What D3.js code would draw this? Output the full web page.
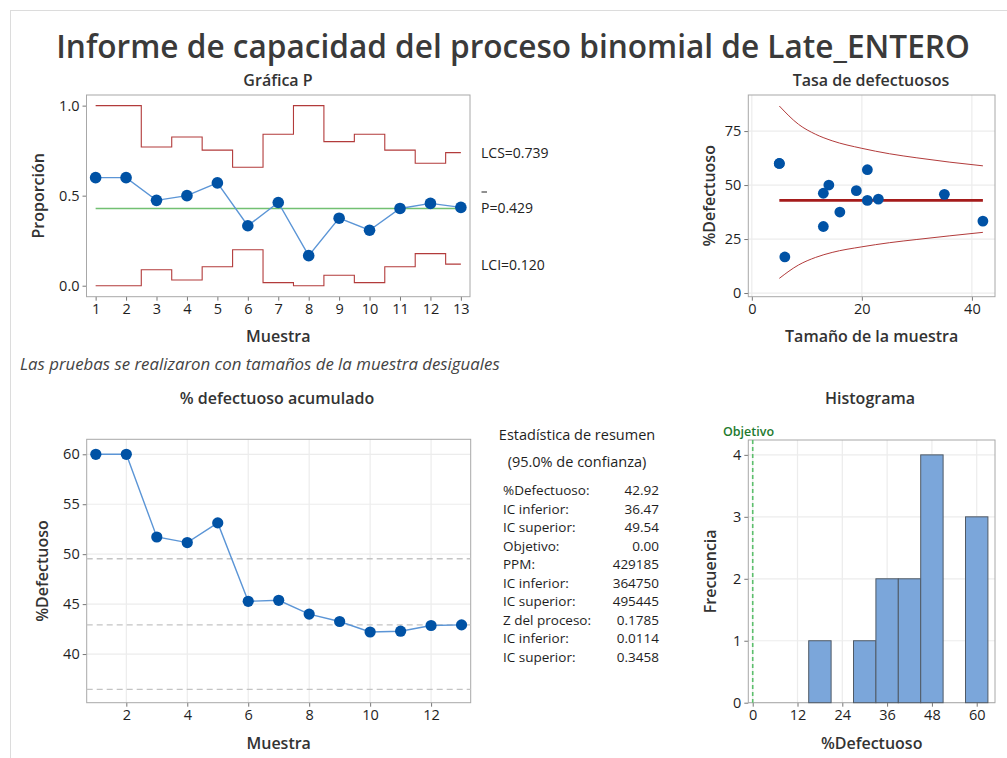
<!DOCTYPE html>
<html>
<head>
<meta charset="utf-8">
<script src="https://cdn.jsdelivr.net/npm/d3@7"></script>
<style>
  body { margin: 0; background: #fff; }
  svg { display: block; }
  text { font-family: "Open Sans", "Noto Sans", "DejaVu Sans", sans-serif; }
</style>
</head>
<body>
<svg id="chart" width="1007" height="758"></svg>
<script>
// ---- data -------------------------------------------------------------
const samples      = [1, 2, 3, 4, 5, 6, 7, 8, 9, 10, 11, 12, 13];
const sampleSizes  = [5, 5, 19, 14, 21, 42, 13, 6, 16, 13, 21, 35, 23];
const proportion   = [0.600, 0.600, 0.474, 0.500, 0.571, 0.333, 0.462, 0.167, 0.375, 0.308, 0.429, 0.457, 0.435];
const ucl          = [1.000, 1.000, 0.770, 0.826, 0.753, 0.658, 0.841, 1.000, 0.800, 0.841, 0.753, 0.680, 0.739];
const lcl          = [0.000, 0.000, 0.089, 0.032, 0.105, 0.200, 0.017, 0.000, 0.058, 0.017, 0.105, 0.178, 0.120];
const pBar = 0.429;
const cumulativePct = [60.00, 60.00, 51.72, 51.16, 53.13, 45.28, 45.38, 44.00, 43.26, 42.21, 42.29, 42.86, 42.92];
const ciLower = 36.47, ciUpper = 49.54, pctDefective = 42.92;

// limit curves of the rate plot
const curveN     = [5, 8.5, 11.6, 14.6, 20, 25, 30, 36, 42];
const curveUpper = [86.6, 78.1, 73.5, 70.5, 67.0, 64.5, 62.6, 60.6, 58.9];
const curveLower = [6.8, 13.0, 16.5, 18.8, 21.4, 23.3, 24.8, 26.5, 28.1];

// histogram bins (%Defectuoso)
const binStart = [15, 27, 33, 39, 45, 57];
const binEnd   = [21, 33, 39, 45, 51, 63];
const binCount = [1, 1, 2, 2, 4, 3];
const target = 0;

const pTicks    = [0, 0.5, 1.0];
const cumYTicks = [40, 45, 50, 55, 60];
const cumXTicks = [2, 4, 6, 8, 10, 12];
const rateYTicks = [0, 25, 50, 75];
const rateXTicks = [0, 20, 40];
const histXTicks = [0, 12, 24, 36, 48, 60];
const histYTicks = [0, 1, 2, 3, 4];

const statLabels = ["%Defectuoso:", "IC inferior:", "IC superior:", "Objetivo:", "PPM:",
                    "IC inferior:", "IC superior:", "Z del proceso:", "IC inferior:", "IC superior:"];
const statValues = ["42.92", "36.47", "49.54", "0.00", "429185", "364750", "495445", "0.1785", "0.0114", "0.3458"];

// ---- styles ------------------------------------------------------------
const C = {
  frame: "#a8a8a8", grid: "#ececec", text: "#333", tick: "#1e1e1e",
  dot: "#0052a5", line: "#5b95d6", limit: "#b23b3b", center: "#72c072",
  rateCenter: "#a51b1b", bar: "#7ba6da", barStroke: "#505a66",
  targetLine: "#5cbf6c", targetText: "#1e7a2e", dash: "#c4c4c4"
};

const svg = d3.select("#chart");
svg.append("rect").attr("width", 1007).attr("height", 758).attr("fill", "#fff");
svg.append("rect").attr("x", 10.5).attr("y", 10.5).attr("width", 1010).attr("height", 760)
   .attr("fill", "none").attr("stroke", "#dcdcdc");

function fitText(sel, width) {
  const w = sel.node().getComputedTextLength();
  const fs = parseFloat(sel.attr("font-size"));
  sel.attr("font-size", fs * width / w);
}

// main title
const title = svg.append("text").attr("x", 513).attr("y", 57.5).attr("text-anchor", "middle")
  .attr("font-size", 34).attr("font-weight", 600).attr("fill", "#3a3a3a")
  .text("Informe de capacidad del proceso binomial de Late_ENTERO");
fitText(title, 914);

// generic panel: frame, axes, titles
function panel(o) {
  const g = svg.append("g");
  const x = d3.scaleLinear().domain(o.xd).range([o.x0, o.x1]);
  const y = d3.scaleLinear().domain(o.yd).range([o.y1, o.y0]);
  if (o.grid) {
    g.append("g").selectAll("line").data(o.xt).join("line")
      .attr("x1", d => x(d)).attr("x2", d => x(d)).attr("y1", o.y0).attr("y2", o.y1)
      .attr("stroke", C.grid).attr("stroke-width", 1.2);
    g.append("g").selectAll("line").data(o.yt).join("line")
      .attr("y1", d => y(d)).attr("y2", d => y(d)).attr("x1", o.x0).attr("x2", o.x1)
      .attr("stroke", C.grid).attr("stroke-width", 1.2);
  }
  const xa = g.append("g").attr("transform", `translate(0,${o.y1})`)
    .call(d3.axisBottom(x).tickValues(o.xt).tickFormat(o.xf || d3.format("d")).tickSize(4).tickPadding(3));
  const ya = g.append("g").attr("transform", `translate(${o.x0},0)`)
    .call(d3.axisLeft(y).tickValues(o.yt).tickFormat(o.yf || d3.format("d")).tickSize(4).tickPadding(3));
  [xa, ya].forEach(a => {
    a.select(".domain").remove();
    a.selectAll(".tick line").attr("stroke", "#777");
    a.selectAll(".tick text").attr("fill", C.tick).attr("font-size", 14.5)
      .attr("font-family", '"Open Sans", "Noto Sans", sans-serif');
  });
  g.append("rect").attr("x", o.x0).attr("y", o.y0).attr("width", o.x1 - o.x0).attr("height", o.y1 - o.y0)
    .attr("fill", "none").attr("stroke", C.frame);
  g.append("text").attr("x", o.tx).attr("y", o.ty).attr("text-anchor", "middle")
    .attr("font-size", 16).attr("font-weight", 600).attr("fill", C.text).text(o.title);
  g.append("text").attr("x", (o.x0 + o.x1) / 2).attr("y", o.xly).attr("text-anchor", "middle")
    .attr("font-size", 16).attr("font-weight", 600).attr("fill", C.text).text(o.xlabel);
  g.append("text").attr("transform", `translate(${o.ylx},${(o.y0 + o.y1) / 2}) rotate(-90)`)
    .attr("text-anchor", "middle").attr("font-size", 16).attr("font-weight", 600)
    .attr("fill", C.text).text(o.ylabel);
  const plot = g.append("g");
  return { g: plot, x, y };
}

// ---- Gráfica P ---------------------------------------------------------
{
  const { g, x, y } = panel({
    x0: 86.5, x1: 470, y0: 95, y1: 296.7, xd: [0.7, 13.3], yd: [-0.061, 1.059],
    xt: samples, yt: pTicks, yf: d3.format(".1f"),
    title: "Gráfica P", tx: 278, ty: 86, xlabel: "Muestra", xly: 342, ylabel: "Proporción", ylx: 44
  });
  const step = d3.line().x((d, i) => x(samples[i])).y(d => y(d)).curve(d3.curveStep);
  g.append("path").attr("d", step(ucl)).attr("fill", "none").attr("stroke", C.limit).attr("stroke-width", 1.1);
  g.append("path").attr("d", step(lcl)).attr("fill", "none").attr("stroke", C.limit).attr("stroke-width", 1.1);
  g.append("line").attr("x1", x(1)).attr("x2", x(13)).attr("y1", y(pBar)).attr("y2", y(pBar))
    .attr("stroke", C.center).attr("stroke-width", 1.6);
  const ln = d3.line().x((d, i) => x(samples[i])).y(d => y(d));
  g.append("path").attr("d", ln(proportion)).attr("fill", "none").attr("stroke", C.line).attr("stroke-width", 1.4);
  g.selectAll("circle").data(proportion).join("circle")
    .attr("cx", (d, i) => x(samples[i])).attr("cy", d => y(d)).attr("r", 5.8).attr("fill", C.dot);

  const lab = svg.append("g").attr("font-size", 14).attr("fill", "#222");
  lab.append("text").attr("x", 481).attr("y", 158).text("LCS=" + d3.format(".3f")(ucl[12]));
  lab.append("text").attr("x", 481).attr("y", 213).text("P=" + d3.format(".3f")(pBar));
  lab.append("line").attr("x1", 481.5).attr("x2", 487).attr("y1", 192).attr("y2", 192).attr("stroke", "#222").attr("stroke-width", 1);
  lab.append("text").attr("x", 481).attr("y", 270).text("LCI=" + d3.format(".3f")(lcl[12]));
}

// ---- Tasa de defectuosos -----------------------------------------------
{
  const { g, x, y } = panel({
    x0: 748.3, x1: 995, y0: 95, y1: 296.7, xd: [-0.64, 44.2], yd: [-1.7, 91.7], grid: true,
    xt: rateXTicks, yt: rateYTicks,
    title: "Tasa de defectuosos", tx: 871, ty: 86, xlabel: "Tamaño de la muestra", xly: 342,
    ylabel: "%Defectuoso", ylx: 715
  });
  const cl = d3.line().x((d, i) => x(curveN[i])).y(d => y(d)).curve(d3.curveMonotoneX);
  g.append("path").attr("d", cl(curveUpper)).attr("fill", "none").attr("stroke", C.limit).attr("stroke-width", 1);
  g.append("path").attr("d", cl(curveLower)).attr("fill", "none").attr("stroke", C.limit).attr("stroke-width", 1);
  g.append("line").attr("x1", x(d3.min(sampleSizes))).attr("x2", x(d3.max(sampleSizes)))
    .attr("y1", y(pctDefective)).attr("y2", y(pctDefective))
    .attr("stroke", C.rateCenter).attr("stroke-width", 2.6);
  g.selectAll("circle").data(sampleSizes).join("circle")
    .attr("cx", d => x(d)).attr("cy", (d, i) => y(proportion[i] * 100)).attr("r", 5.4).attr("fill", C.dot);
}

// note
const note = svg.append("text").attr("x", 20).attr("y", 370).attr("font-size", 14.5)
  .attr("font-style", "italic").attr("fill", "#444")
  .text("Las pruebas se realizaron con tamaños de la muestra desiguales");
fitText(note, 480);

// ---- % defectuoso acumulado --------------------------------------------
{
  const { g, x, y } = panel({
    x0: 86.7, x1: 470.7, y0: 439.3, y1: 702.7, xd: [0.7, 13.3], yd: [35.13, 61.5], grid: true,
    xt: cumXTicks, yt: cumYTicks,
    title: "% defectuoso acumulado", tx: 277, ty: 403.5, xlabel: "Muestra", xly: 748.5,
    ylabel: "%Defectuoso", ylx: 48
  });
  [ciUpper, pctDefective, ciLower].forEach(v => {
    g.append("line").attr("x1", x(0.7)).attr("x2", x(13.3)).attr("y1", y(v)).attr("y2", y(v))
      .attr("stroke", C.dash).attr("stroke-width", 1.3).attr("stroke-dasharray", "6,4");
  });
  const ln = d3.line().x((d, i) => x(samples[i])).y(d => y(d));
  g.append("path").attr("d", ln(cumulativePct)).attr("fill", "none").attr("stroke", C.line).attr("stroke-width", 1.4);
  g.selectAll("circle").data(cumulativePct).join("circle")
    .attr("cx", (d, i) => x(samples[i])).attr("cy", d => y(d)).attr("r", 5.6).attr("fill", C.dot);
}

// ---- Estadística de resumen --------------------------------------------
{
  const g = svg.append("g").attr("font-size", 13).attr("fill", "#1e1e1e");
  g.append("text").attr("x", 577).attr("y", 440).attr("text-anchor", "middle").attr("font-size", 14.5)
    .text("Estadística de resumen");
  g.append("text").attr("x", 577).attr("y", 467).attr("text-anchor", "middle").attr("font-size", 14.5)
    .text("(95.0% de confianza)");
  const rowY = d3.scaleLinear().domain([0, statLabels.length - 1]).range([495, 662]);
  statLabels.forEach((s, i) => {
    g.append("text").attr("x", 503).attr("y", rowY(i)).attr("font-size", 13.5).text(s);
    g.append("text").attr("x", 659).attr("y", rowY(i)).attr("font-size", 13.5).attr("text-anchor", "end").text(statValues[i]);
  });
}

// ---- Histograma --------------------------------------------------------
{
  const { g, x, y } = panel({
    x0: 748.3, x1: 995, y0: 440, y1: 702.7, xd: [-1.18, 64.9], yd: [0, 4.24], grid: true,
    xt: histXTicks, yt: histYTicks,
    title: "Histograma", tx: 870, ty: 403.5, xlabel: "%Defectuoso", xly: 748.5,
    ylabel: "Frecuencia", ylx: 716
  });
  g.selectAll("rect").data(binCount).join("rect")
    .attr("x", (d, i) => x(binStart[i])).attr("width", (d, i) => x(binEnd[i]) - x(binStart[i]))
    .attr("y", d => y(d)).attr("height", d => y(0) - y(d))
    .attr("fill", C.bar).attr("stroke", C.barStroke).attr("stroke-width", 1);
  g.append("line").attr("x1", x(target)).attr("x2", x(target)).attr("y1", 440).attr("y2", 702.7)
    .attr("stroke", C.targetLine).attr("stroke-width", 1.6).attr("stroke-dasharray", "4,3");
  svg.append("text").attr("x", 723).attr("y", 436).attr("font-size", 12.5).attr("font-weight", 600)
    .attr("fill", C.targetText).text("Objetivo");
}
</script>
</body>
</html>
